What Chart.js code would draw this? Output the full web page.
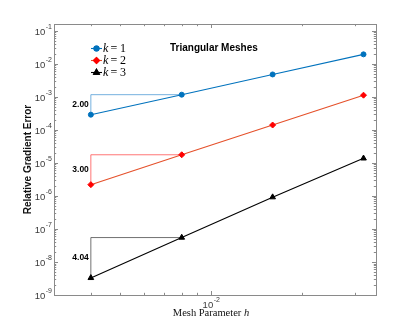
<!DOCTYPE html>
<html>
<head>
<meta charset="utf-8">
<script src="https://cdn.jsdelivr.net/npm/chart.js@4.4.1/dist/chart.umd.min.js"></script>
<style>
html,body{margin:0;padding:0;background:#fff;}
#wrap{width:415px;height:332px;position:relative;}
</style>
</head>
<body>
<div id="wrap"><canvas id="c" width="415" height="332"></canvas></div>
<script>
// ---- data ----
const meshH = [0.004, 0.008, 0.016, 0.032];
const errK1 = [2.9e-4, 1.17e-3, 4.8e-3, 1.95e-2];
const errK2 = [2.2e-6, 1.77e-5, 1.41e-4, 1.13e-3];
const errK3 = [3.3e-9, 5.5e-8, 9.2e-7, 1.38e-5];
const seriesLabels = ['1', '2', '3'];
const rateLabels = ['2.00', '3.00', '4.04'];
const yTickExps = [-9, -8, -7, -6, -5, -4, -3, -2, -1];
const xTickExps = [-2];
const titleText = 'Triangular Meshes';
const yTitle = 'Relative Gradient Error';
const xTitle = 'Mesh Parameter ';

const colors = {
  k1Line: '#0072BD', k1Mark: '#0072BD', k1Tri: '#3a8fd0',
  k2Line: '#E5502A', k2Mark: '#FF0000', k2Tri: '#FF3a3a',
  k3Line: '#000000', k3Mark: '#000000', k3Tri: '#333333'
};

function pts(xs, ys){ return xs.map((x,i)=>({x:x, y:ys[i]})); }
function tri(xs, ys){ return [{x:xs[0],y:ys[0]},{x:xs[0],y:ys[1]},{x:xs[1],y:ys[1]}]; }

const errs = [errK1, errK2, errK3];
const lineCols = [colors.k1Line, colors.k2Line, colors.k3Line];
const markCols = [colors.k1Mark, colors.k2Mark, colors.k3Mark];
const triCols = [colors.k1Tri, colors.k2Tri, colors.k3Tri];
const styles = ['circle', 'rectRot', 'triangle'];
const radii = [2.5, 3, 3.3];

const datasets = [];
errs.forEach((e, i) => {
  datasets.push({
    data: tri(meshH, e), borderColor: triCols[i], borderWidth: 0.7,
    pointRadius: 0, fill: false, tension: 0, order: 2
  });
});
errs.forEach((e, i) => {
  datasets.push({
    data: pts(meshH, e), borderColor: lineCols[i], borderWidth: 1.1,
    pointStyle: styles[i], pointRadius: radii[i],
    pointBackgroundColor: markCols[i], pointBorderColor: markCols[i], pointBorderWidth: 1,
    fill: false, tension: 0, order: 1
  });
});

function drawPow(ctx, x, y, exp, align){
  const base = '10', ex = '-' + Math.abs(exp);
  ctx.font = '9.5px "Liberation Sans", Arial, sans-serif';
  const wb = ctx.measureText(base).width;
  ctx.font = '7px "Liberation Sans", Arial, sans-serif';
  const we = ctx.measureText(ex).width;
  let xb;
  if (align === 'right') xb = x - wb - we;
  else xb = x - (wb + we) / 2;
  ctx.textAlign = 'left';
  ctx.textBaseline = 'middle';
  ctx.font = '9.5px "Liberation Sans", Arial, sans-serif';
  ctx.fillText(base, xb, y + 1);
  ctx.font = '7px "Liberation Sans", Arial, sans-serif';
  ctx.fillText(ex, xb + wb + 0.5, y - 4);
}

const decor = {
  id: 'decor',
  afterDatasetsDraw(chart){
    const ctx = chart.ctx, a = chart.chartArea;
    const xs = chart.scales.x, ys = chart.scales.y;
    ctx.save();
    // frame
    ctx.strokeStyle = '#8a8a8a';
    ctx.lineWidth = 1;
    ctx.strokeRect(Math.round(a.left)+0.5, Math.round(a.top)+0.5, Math.round(a.right-a.left), Math.round(a.bottom-a.top));
    // y ticks
    ctx.beginPath();
    for (let e = -9; e <= -1; e++) {
      for (let m = 1; m <= 9; m++) {
        const v = m * Math.pow(10, e);
        if (v < ys.min || v > ys.max) continue;
        const py = Math.round(ys.getPixelForValue(v)) + 0.5;
        const len = m === 1 ? 4 : 2.2;
        ctx.moveTo(a.left, py); ctx.lineTo(a.left + len, py);
        ctx.moveTo(a.right, py); ctx.lineTo(a.right - len, py);
      }
    }
    // x ticks
    for (let e = -3; e <= -1; e++) {
      for (let m = 1; m <= 9; m++) {
        const v = m * Math.pow(10, e);
        if (v < xs.min || v > xs.max) continue;
        const px = Math.round(xs.getPixelForValue(v)) + 0.5;
        const len = m === 1 ? 4 : 2.2;
        ctx.moveTo(px, a.bottom); ctx.lineTo(px, a.bottom - len);
        ctx.moveTo(px, a.top); ctx.lineTo(px, a.top + len);
      }
    }
    ctx.stroke();
    // tick labels
    ctx.fillStyle = '#3a3a3a';
    yTickExps.forEach(e => drawPow(ctx, a.left - 2.5, ys.getPixelForValue(Math.pow(10, e)), e, 'right'));
    xTickExps.forEach(e => drawPow(ctx, xs.getPixelForValue(Math.pow(10, e)), a.bottom + 9, e, 'center'));

    // axis titles
    ctx.fillStyle = '#111';
    ctx.font = 'bold 10px "Liberation Sans", Arial, sans-serif';
    ctx.save();
    ctx.translate(28, (a.top + a.bottom) / 2);
    ctx.rotate(-Math.PI / 2);
    ctx.textAlign = 'center'; ctx.textBaseline = 'middle';
    ctx.fillText(yTitle, 0, 0);
    ctx.restore();

    ctx.font = '10.5px "Liberation Serif", "DejaVu Serif", serif';
    const w1 = ctx.measureText(xTitle).width;
    ctx.font = 'italic 10.5px "Liberation Serif", "DejaVu Serif", serif';
    const w2 = ctx.measureText('h').width;
    let xl = 211 - (w1 + w2) / 2;
    ctx.textAlign = 'left'; ctx.textBaseline = 'middle';
    ctx.font = '10.5px "Liberation Serif", "DejaVu Serif", serif';
    ctx.fillText(xTitle, xl, 313);
    ctx.font = 'italic 10.5px "Liberation Serif", "DejaVu Serif", serif';
    ctx.fillText('h', xl + w1, 313);

    // title inside
    ctx.fillStyle = '#000';
    ctx.font = 'bold 10px "Liberation Sans", Arial, sans-serif';
    ctx.textAlign = 'left'; ctx.textBaseline = 'middle';
    ctx.fillText(titleText, 170, 48);

    // legend
    seriesLabels.forEach((lab, i) => {
      const ly = 48 + i * 12;
      ctx.strokeStyle = lineCols[i]; ctx.lineWidth = 1.1;
      ctx.beginPath(); ctx.moveTo(91, ly + 0.5); ctx.lineTo(102, ly + 0.5); ctx.stroke();
      Chart.helpers.drawPoint(ctx, {pointStyle: styles[i], radius: radii[i], borderWidth: 1, rotation: 0}, 96.5, ly + 0.5);
      ctx.fillStyle = markCols[i]; ctx.strokeStyle = markCols[i];
      ctx.fill(); ctx.stroke();
      ctx.fillStyle = '#000';
      ctx.font = 'italic 12px "Liberation Serif", "DejaVu Serif", serif';
      ctx.fillText('k', 103, ly + 1);
      ctx.font = '12px "Liberation Serif", "DejaVu Serif", serif';
      ctx.fillText('=', 110.5, ly + 1);
      ctx.fillText(lab, 120, ly + 1);
    });

    // rate labels
    ctx.fillStyle = '#000';
    ctx.font = 'bold 8.5px "Liberation Sans", Arial, sans-serif';
    ctx.textAlign = 'right'; ctx.textBaseline = 'middle';
    errs.forEach((e, i) => {
      const px = xs.getPixelForValue(meshH[0]);
      const py = (ys.getPixelForValue(e[0]) + ys.getPixelForValue(e[1])) / 2;
      ctx.fillText(rateLabels[i], px - 2, py);
    });
    ctx.restore();
  }
};

new Chart(document.getElementById('c'), {
  type: 'line',
  data: { datasets: datasets },
  options: {
    responsive: false, animation: false, devicePixelRatio: 1,
    layout: { padding: { left: 54, right: 39, top: 24, bottom: 37 } },
    plugins: { legend: { display: false }, tooltip: { enabled: false } },
    scales: {
      x: { type: 'logarithmic', min: 3.02e-3, max: 0.0352, display: false },
      y: { type: 'logarithmic', min: 1e-9, max: 0.162, display: false }
    }
  },
  plugins: [decor]
});
</script>
</body>
</html>
